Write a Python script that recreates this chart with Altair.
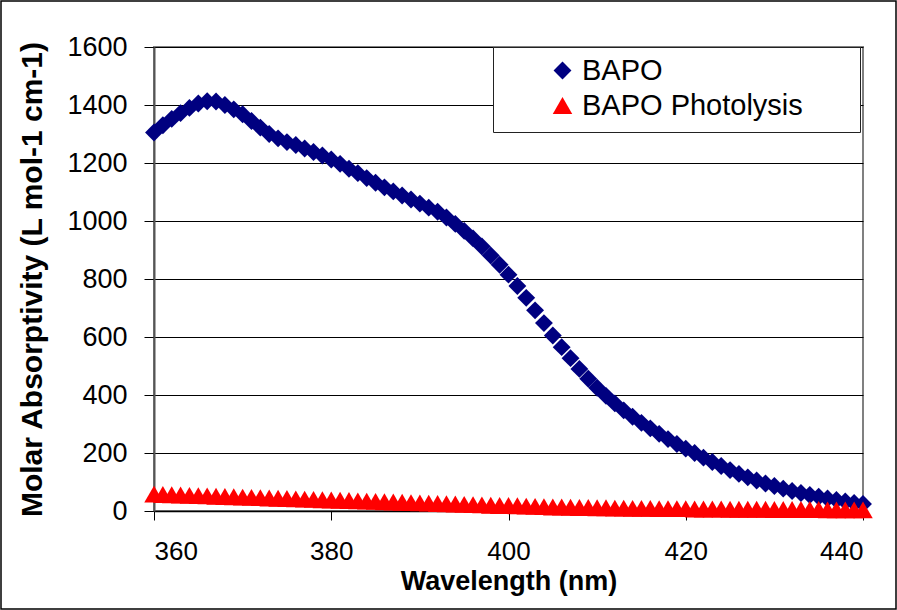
import altair as alt
import pandas as pd

# Absorption spectra of BAPO before and after photolysis, 1 nm steps
wavelength = list(range(360, 441))

bapo = [
    1305, 1330, 1352, 1372, 1390, 1405, 1413, 1412, 1400, 1385,
    1368, 1345, 1322, 1300, 1285, 1272, 1262, 1250, 1238, 1226,
    1212, 1197, 1180, 1165, 1148, 1132, 1116, 1102, 1088, 1074,
    1060, 1046, 1032, 1012, 990, 966, 940, 912, 881, 849,
    815, 776, 735, 692, 648, 605, 565, 527, 490, 456,
    425, 397, 371, 347, 325, 304, 285, 266, 248, 231,
    215, 200, 184, 169, 155, 141, 128, 116, 105, 95,
    86, 77, 69, 62, 55, 49, 43, 38, 33, 28,
    24,
]

bapo_photolysis = [
    58, 57, 56, 55, 54, 53, 52, 51, 50, 49,
    48, 47, 46, 45, 44, 43, 42, 41, 40, 39,
    38, 37, 36, 35, 34, 33, 32, 31, 30, 29,
    28, 27, 26, 25, 24, 23, 22, 21, 20, 19,
    19, 18, 17, 16, 15, 14, 14, 13, 12, 12,
    11, 11, 10, 10, 9, 9, 9, 8, 8, 8,
    8, 7, 7, 7, 7, 6, 6, 6, 6, 6,
    5, 5, 5, 5, 5, 5, 4, 4, 4, 4,
    4,
]

series_names = ["BAPO", "BAPO Photolysis"]
series_colors = ["#000080", "#FF0000"]
series_shapes = ["diamond", "triangle-up"]
series_sizes = [320, 380]

x_ticks = [360, 380, 400, 420, 440]
y_ticks = list(range(0, 1601, 200))

n = len(wavelength)
df = pd.DataFrame({
    "Wavelength": wavelength * 2,
    "Absorptivity": bapo + bapo_photolysis,
    "Series": [series_names[0]] * n + [series_names[1]] * n,
})

W, H = 709, 464
PAD = {"left": 154, "top": 47, "right": 34, "bottom": 99}

# Border around the whole chart area
outer_frame = alt.Chart(alt.Data(values=[{}])).mark_rect(
    fill="white", fillOpacity=0, stroke="black", strokeWidth=1.5
).encode(
    x=alt.value(-PAD["left"] + 1),
    x2=alt.value(W + PAD["right"] - 1),
    y=alt.value(-PAD["top"] + 1),
    y2=alt.value(H + PAD["bottom"] - 1),
)

# Frame behind the legend entries
legend_box = alt.Chart(alt.Data(values=[{}])).mark_rect(
    fill="white", stroke="#222222", strokeWidth=1
).encode(
    x=alt.value(339.5),
    x2=alt.value(706.5),
    y=alt.value(0.5),
    y2=alt.value(85.5),
)

legend = alt.Legend(
    title=None,
    orient="none",
    legendX=394,
    legendY=9,
    padding=0,
    symbolSize=320,
    symbolStrokeWidth=0,
    labelFont="Liberation Sans",
    labelFontSize=29,
    labelColor="black",
    labelLimit=400,
    labelOffset=5,
    rowPadding=5,
)

points = alt.Chart(df).mark_point(filled=True, opacity=1, strokeWidth=0).encode(
    x=alt.X(
        "Wavelength:Q",
        scale=alt.Scale(domain=[360, 440], nice=False, zero=False),
        axis=alt.Axis(
            title="Wavelength (nm)",
            values=x_ticks,
            grid=False,
            format="d",
        ),
    ),
    y=alt.Y(
        "Absorptivity:Q",
        scale=alt.Scale(domain=[0, 1600], nice=False),
        axis=alt.Axis(
            title="Molar Absorptivity (L mol-1 cm-1)",
            values=y_ticks,
            grid=True,
            format="d",
            orient="left",
        ),
    ),
    color=alt.Color(
        "Series:N",
        scale=alt.Scale(domain=series_names, range=series_colors),
        legend=legend,
    ),
    shape=alt.Shape(
        "Series:N",
        scale=alt.Scale(domain=series_names, range=series_shapes),
        legend=legend,
    ),
    size=alt.Size(
        "Series:N",
        scale=alt.Scale(domain=series_names, range=series_sizes),
        legend=None,
    ),
)

chart = alt.layer(outer_frame, legend_box, points).properties(
    width=W,
    height=H,
    autosize=alt.AutoSizeParams(type="none"),
    padding=PAD,
    background="white",
).configure_view(
    stroke="#808080",
    strokeWidth=2,
).configure_axis(
    labelFont="Liberation Sans",
    labelFontSize=27,
    labelColor="black",
    titleFont="Liberation Sans",
    titleFontSize=30,
    titleFontWeight="bold",
    titleColor="black",
    tickColor="black",
    tickWidth=1,
    gridColor="black",
    gridWidth=1,
    gridOpacity=1,
).configure_axisX(
    domainColor="black",
    domainWidth=1.5,
    tickSize=9,
    labelPadding=18,
    labelFontSize=26,
    titlePadding=4,
    titleFontSize=27,
).configure_axisY(
    domainColor="#555555",
    domainWidth=2,
    tickSize=10,
    labelPadding=17,
    titlePadding=19,
)

chart.save("out.html", embed_options={"renderer": "svg", "actions": False})
